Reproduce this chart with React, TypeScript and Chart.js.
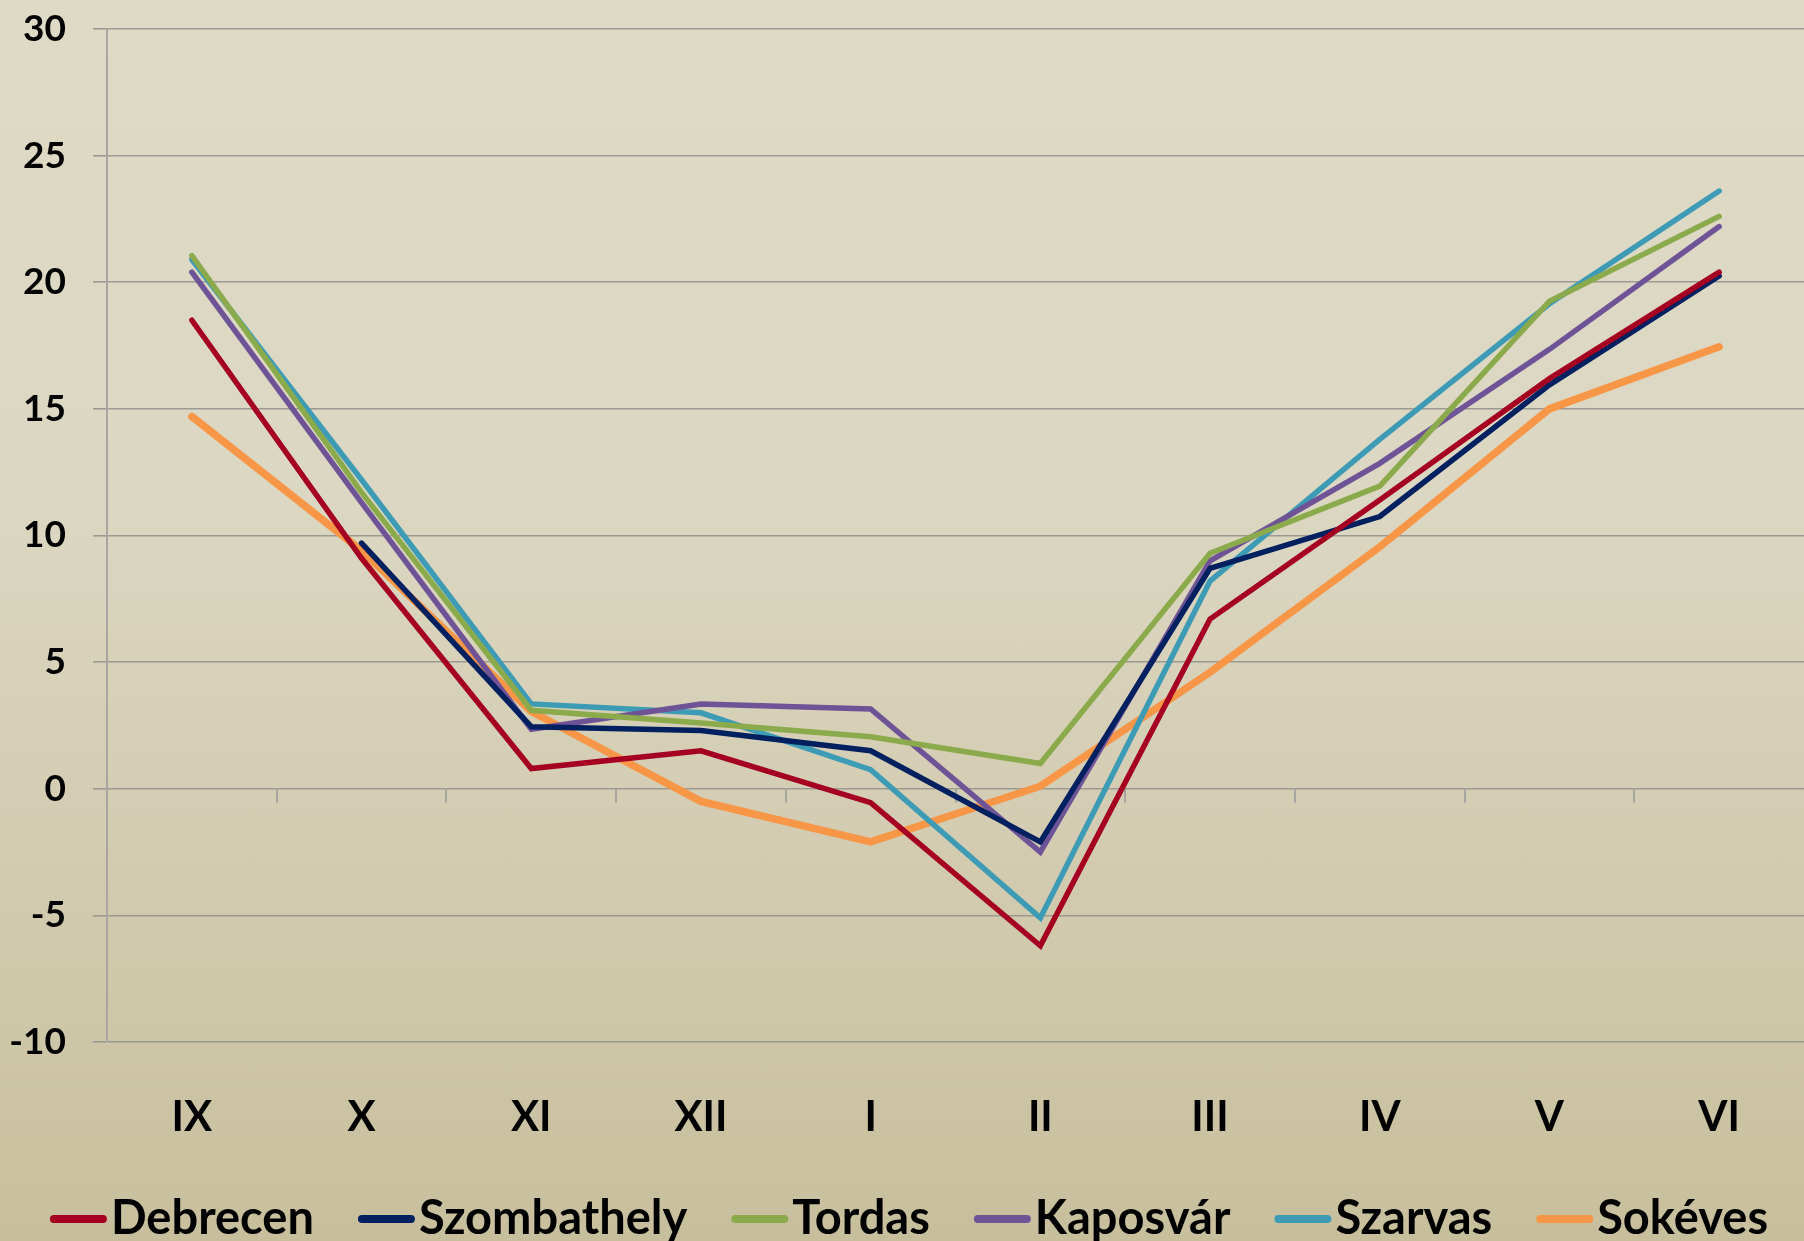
import React, { useEffect, useRef } from "react";
import { Chart, registerables } from "chart.js";

Chart.register(...registerables);

const months = ["IX", "X", "XI", "XII", "I", "II", "III", "IV", "V", "VI"];

const debrecen = [18.5, 9.1, 0.8, 1.5, -0.55, -6.2, 6.7, 11.4, 16.2, 20.4];
const szombathely = [null, 9.7, 2.45, 2.3, 1.5, -2.1, 8.7, 10.75, 15.95, 20.25];
const tordas = [21.05, 11.7, 3.1, 2.6, 2.05, 1.0, 9.3, 11.95, 19.25, 22.6];
const kaposvar = [20.4, 11.3, 2.35, 3.35, 3.15, -2.5, 9.0, 12.85, 17.35, 22.2];
const szarvas = [20.9, 12.2, 3.35, 3.0, 0.75, -5.1, 8.2, 13.8, 19.15, 23.6];
const sokeves = [14.7, 9.4, 3.05, -0.5, -2.1, 0.1, 4.6, 9.55, 15.0, 17.45];

const seriesNames = ["Debrecen", "Szombathely", "Tordas", "Kaposvár", "Szarvas", "Sokéves"];
const seriesData = [debrecen, szombathely, tordas, kaposvar, szarvas, sokeves];
const seriesColors = ["#A50021", "#002060", "#8BAA4B", "#6E5397", "#3E9BB6", "#F79646"];
const seriesWidths = [5.5, 5.5, 5.5, 5.5, 5.5, 7.5];

const yMin = -10;
const yMax = 30;
const yStep = 5;

const W = 1804;
const H = 1241;

const zeroTicksPlugin = {
  id: "zeroTicks",
  beforeDatasetsDraw(chart: any) {
    const { ctx, scales } = chart;
    const x = scales.x;
    const y = scales.y;
    const y0 = y.getPixelForValue(0);
    ctx.save();
    ctx.strokeStyle = "#A8A6A0";
    ctx.lineWidth = 2;
    for (let i = 1; i < months.length; i++) {
      const px = Math.round((x.getPixelForValue(i - 1) + x.getPixelForValue(i)) / 2);
      ctx.beginPath();
      ctx.moveTo(px, y0);
      ctx.lineTo(px, y0 + 14);
      ctx.stroke();
    }
    ctx.restore();
  },
};

const legendPlugin = {
  id: "customLegend",
  afterDraw(chart: any) {
    const ctx = chart.ctx;
    ctx.save();
    ctx.font = "bold 47px Lato, 'Open Sans', sans-serif";
    const sampleW = 57;
    const gapS = 4;
    const gapItem = 44;
    const widths = seriesNames.map((n) => ctx.measureText(n).width);
    const total =
      widths.reduce((a, w) => a + sampleW + gapS + w, 0) + gapItem * (seriesNames.length - 1);
    let x = (chart.width - total) / 2 + 7;
    const baseY = chart.height - 7;
    const sampleY = chart.height - 22;
    seriesNames.forEach((name, i) => {
      ctx.strokeStyle = seriesColors[i];
      ctx.lineWidth = 8;
      ctx.lineCap = "round";
      ctx.beginPath();
      ctx.moveTo(x + 4, sampleY);
      ctx.lineTo(x + sampleW - 4, sampleY);
      ctx.stroke();
      ctx.fillStyle = "#000";
      ctx.textBaseline = "alphabetic";
      ctx.textAlign = "left";
      ctx.fillText(name, x + sampleW + gapS, baseY);
      x += sampleW + gapS + widths[i] + gapItem;
    });
    ctx.restore();
  },
};

export default function App() {
  const canvasRef = useRef<HTMLCanvasElement | null>(null);

  useEffect(() => {
    if (!canvasRef.current) return;
    Chart.defaults.font.family = "Lato, 'Open Sans', sans-serif";
    const chart = new Chart(canvasRef.current, {
      type: "line",
      data: {
        labels: months,
        datasets: seriesNames.map((name, i) => ({
          label: name,
          data: seriesData[i],
          borderColor: seriesColors[i],
          backgroundColor: seriesColors[i],
          borderWidth: seriesWidths[i],
          pointRadius: 0,
          pointHoverRadius: 0,
          tension: 0,
          fill: false,
          spanGaps: false,
          borderJoinStyle: "miter",
          borderCapStyle: "round",
        })),
      },
      options: {
        responsive: false,
        animation: false,
        events: [],
        layout: { padding: { top: 0, right: 0, left: 0, bottom: 0 } },
        plugins: {
          legend: { display: false },
          tooltip: { enabled: false },
          title: { display: false },
        },
        scales: {
          x: {
            type: "category",
            offset: true,
            grid: { display: false, drawTicks: false },
            border: { display: false },
            ticks: {
              color: "#000",
              font: { size: 42, weight: "bold" },
              padding: 50,
              maxRotation: 0,
              autoSkip: false,
            },
            afterFit(scale: any) {
              scale.height = 199;
            },
          },
          y: {
            min: yMin,
            max: yMax,
            ticks: {
              stepSize: yStep,
              color: "#000",
              font: { size: 37, weight: "bold" },
              padding: 27,
            },
            grid: {
              color: "#9B9992",
              lineWidth: 1.6,
              drawTicks: true,
              tickLength: 14,
            },
            border: { display: true, color: "#A8A6A0", width: 2 },
            afterFit(scale: any) {
              scale.width = 107;
              scale.paddingTop = 29;
              scale.paddingBottom = 0;
            },
          },
        },
      },
      plugins: [zeroTicksPlugin, legendPlugin],
    });
    return () => chart.destroy();
  }, []);

  return (
    <div
      style={{
        position: "fixed",
        left: 0,
        top: 0,
        width: W,
        height: H,
        overflow: "hidden",
        background: "linear-gradient(to bottom, #DEDAC6 0%, #DCD7C2 40%, #D2CBB0 70%, #C7BF9C 100%)",
      }}
    >
      <canvas ref={canvasRef} width={W} height={H} style={{ display: "block" }} />
    </div>
  );
}
